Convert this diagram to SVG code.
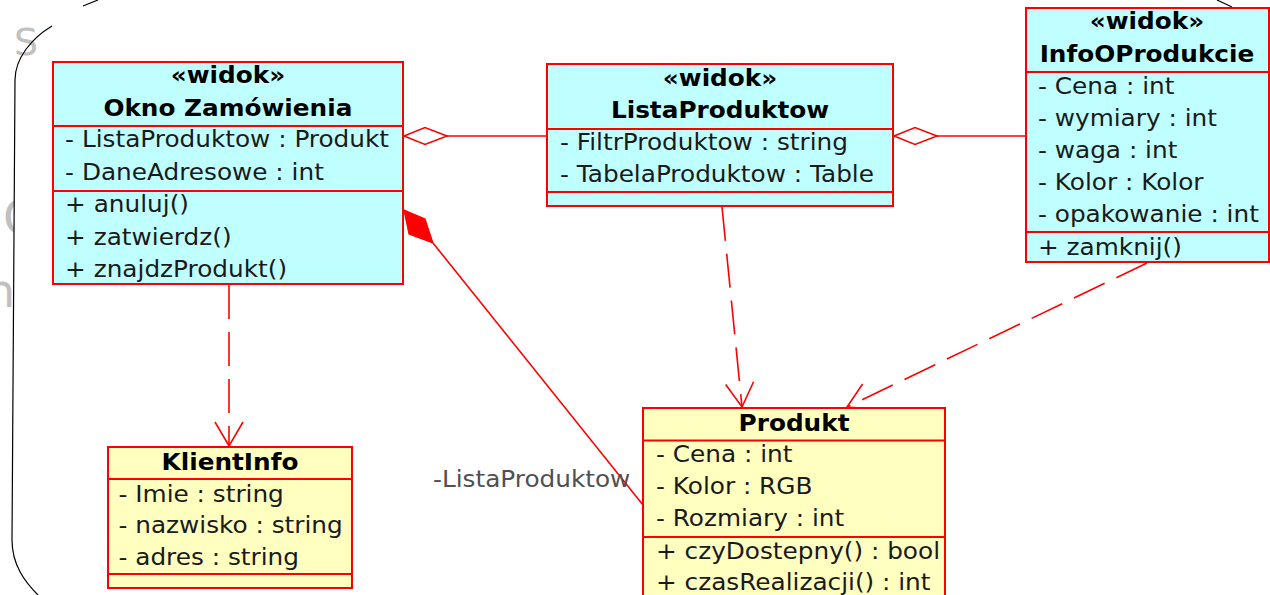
<svg xmlns="http://www.w3.org/2000/svg" width="1270" height="595" viewBox="0 0 1270 595">
<style>
.box{stroke:#f00;stroke-width:2}
.cy{fill:#c0ffff}
.ye{fill:#ffffc0}
.sep{stroke:#f00;stroke-width:2}
.t{font-family:"DejaVu Sans","Liberation Sans",sans-serif;font-size:22.5px;fill:#1a1a1a}
.b{font-weight:bold;fill:#000;text-anchor:middle}
.con{stroke:#f00;stroke-width:1.6;fill:none}
.dash{stroke-dasharray:34 13}
.bg{font-family:"DejaVu Sans","Liberation Sans",sans-serif;fill:#c0c0c0}
</style>
<defs>
<marker id="open" viewBox="-28 -16 32 32" refX="0" refY="0" markerWidth="32" markerHeight="32" markerUnits="userSpaceOnUse" orient="auto">
<path d="M-24,-14 L0,0 L-24,14" fill="none" stroke="#f00" stroke-width="1.6"/>
</marker>
</defs>
<rect x="0" y="0" width="1270" height="595" fill="#fff"/>
<g id="background">
<text class="bg" x="3" y="234" font-size="48">C</text>
<text class="bg" x="-14" y="307" font-size="46">n</text>
<path d="M38,600 L38,595 C25,582 12,565 12,540 L15,80 C15,58 32,38 52,26 L83,6 L98,0 L1270,0 L1270,600 Z" fill="#fff"/>
<text class="bg" x="14" y="55" font-size="38">S</text>
<path d="M38,595 C25,582 12,565 12,540 L15,80 C15,58 32,38 52,26" fill="none" stroke="#000" stroke-width="1.2"/>
<path d="M83,6 L98,0 M1217,0 L1232,7" fill="none" stroke="#000" stroke-width="1.2"/>
</g>
<g id="connectors">
<line class="con" x1="447" y1="136" x2="547" y2="136"/>
<polygon points="404,136 425,127.5 447,136 425,144.5" fill="#fff" stroke="#f00" stroke-width="1.6"/>
<line class="con" x1="937" y1="136" x2="1026" y2="136"/>
<polygon points="894,136 915,127.5 937,136 915,144.5" fill="#fff" stroke="#f00" stroke-width="1.6"/>
<line class="con" x1="433" y1="243" x2="643" y2="505"/>
<polygon points="404,210 425,219 433,243 409,234" fill="#f00" stroke="#f00" stroke-width="1.2"/>
<line class="con dash" x1="229" y1="285" x2="229" y2="446" marker-end="url(#open)"/>
<line class="con dash" x1="722" y1="207" x2="742" y2="407" marker-end="url(#open)"/>
<line class="con dash" x1="1147" y1="263" x2="847" y2="407" marker-end="url(#open)"/>
<g transform="translate(433,0) scale(1.1,1)"><text class="t" x="0" y="487" font-size="22" style="fill:#505050">-ListaProduktow</text></g>
</g>
<g id="okno">
<rect class="box cy" x="53" y="62" width="350" height="222"/>
<line class="sep" x1="53" y1="126" x2="403" y2="126"/>
<line class="sep" x1="53" y1="191" x2="403" y2="191"/>
<g transform="translate(53,0) scale(1.1,1)">
<text class="t b" x="159" y="83">«widok»</text>
<text class="t b" x="159" y="116">Okno Zamówienia</text>
<text class="t" x="11" y="147">- ListaProduktow : Produkt</text>
<text class="t" x="11" y="180">- DaneAdresowe : int</text>
<text class="t" x="11" y="212">+  anuluj()</text>
<text class="t" x="11" y="245">+ zatwierdz()</text>
<text class="t" x="11" y="277">+ znajdzProdukt()</text>
</g>
</g>
<g id="listaProduktow">
<rect class="box cy" x="547" y="64" width="346" height="142"/>
<line class="sep" x1="547" y1="129" x2="893" y2="129"/>
<line class="sep" x1="547" y1="192" x2="893" y2="192"/>
<g transform="translate(547,0) scale(1.1,1)">
<text class="t b" x="157.3" y="86">«widok»</text>
<text class="t b" x="157.3" y="118">ListaProduktow</text>
<text class="t" x="11.8" y="150">- FiltrProduktow : string</text>
<text class="t" x="11.8" y="182">- TabelaProduktow : Table</text>
</g>
</g>
<g id="infoOProdukcie">
<rect class="box cy" x="1026" y="8" width="243" height="254"/>
<line class="sep" x1="1026" y1="72" x2="1269" y2="72"/>
<line class="sep" x1="1026" y1="232" x2="1269" y2="232"/>
<g transform="translate(1026,0) scale(1.1,1)">
<text class="t b" x="110" y="29">«widok»</text>
<text class="t b" x="110" y="62">InfoOProdukcie</text>
<text class="t" x="10.9" y="94">- Cena : int</text>
<text class="t" x="10.9" y="126">- wymiary : int</text>
<text class="t" x="10.9" y="158">- waga : int</text>
<text class="t" x="10.9" y="190">- Kolor : Kolor</text>
<text class="t" x="10.9" y="222">- opakowanie : int</text>
<text class="t" x="10.9" y="255">+ zamknij()</text>
</g>
</g>
<g id="klientInfo">
<rect class="box ye" x="108" y="447" width="244" height="141"/>
<line class="sep" x1="108" y1="479" x2="352" y2="479"/>
<line class="sep" x1="108" y1="574" x2="352" y2="574"/>
<g transform="translate(108,0) scale(1.1,1)">
<text class="t b" x="110.9" y="470">KlientInfo</text>
<text class="t" x="9.5" y="502">- Imie : string</text>
<text class="t" x="9.5" y="533">- nazwisko : string</text>
<text class="t" x="9.5" y="565">- adres : string</text>
</g>
</g>
<g id="produkt">
<rect class="box ye" x="643" y="408" width="302" height="200"/>
<line class="sep" x1="643" y1="440.5" x2="945" y2="440.5"/>
<line class="sep" x1="643" y1="537" x2="945" y2="537"/>
<g transform="translate(643,0) scale(1.1,1)">
<text class="t b" x="137.3" y="431">Produkt</text>
<text class="t" x="11.8" y="462">- Cena : int</text>
<text class="t" x="11.8" y="494">- Kolor : RGB</text>
<text class="t" x="11.8" y="526">- Rozmiary : int</text>
<text class="t" x="11.8" y="559">+ czyDostepny() : bool</text>
<text class="t" x="11.8" y="590">+ czasRealizacji() : int</text>
</g>
</g>
</svg>
